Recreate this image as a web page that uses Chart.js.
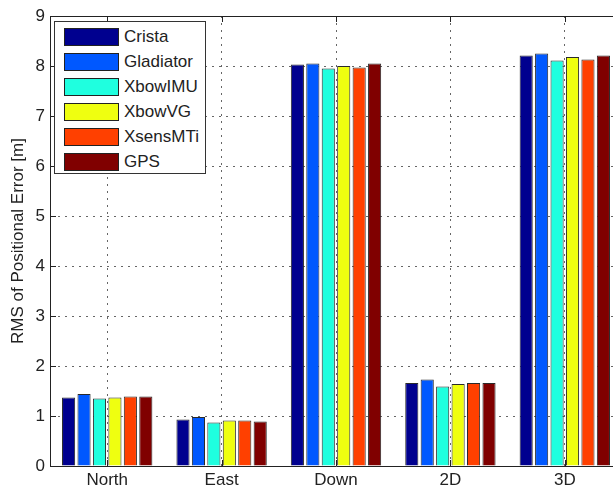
<!DOCTYPE html>
<html>
<head>
<meta charset="utf-8">
<script src="https://cdn.jsdelivr.net/npm/chart.js@4"></script>
<style>
  html, body { margin: 0; padding: 0; background: #fff; overflow: hidden; }
  .wrap { position: relative; width: 613px; height: 489px; overflow: hidden; }
  #chart { position: absolute; left: 0; top: 0; }
  .legend {
    position: absolute; left: 54px; top: 21px; width: 152px; height: 153px;
    box-sizing: border-box; border: 1px solid #333; background: #fff;
    padding: 2px 0 0 9px; font-family: "Liberation Sans", Arial, sans-serif;
    font-size: 17px; color: #222;
  }
  .legend-row { display: flex; align-items: center; height: 25px; white-space: nowrap; }
  .legend-swatch { width: 55px; height: 18px; box-sizing: border-box; border: 1px solid #222; margin-right: 5px; flex: none; }
</style>
</head>
<body>
<div class="wrap">
  <canvas id="chart" width="632" height="489"></canvas>
  <div class="legend" id="legend"></div>
</div>
<script>
// ---------------------- DATA ----------------------
const categories = ["North", "East", "Down", "2D", "3D"];
const seriesNames = ["Crista", "Gladiator", "XbowIMU", "XbowVG", "XsensMTi", "GPS"];
const crista = [1.37, 0.93, 8.03, 1.66, 8.21];
const gladiator = [1.44, 0.98, 8.05, 1.73, 8.25];
const xbowIMU = [1.35, 0.87, 7.95, 1.59, 8.11];
const xbowVG = [1.37, 0.91, 8.0, 1.64, 8.18];
const xsensMTi = [1.39, 0.91, 7.97, 1.66, 8.13];
const gps = [1.39, 0.89, 8.05, 1.66, 8.21];
const seriesColors = ["#00008f", "#0058ff", "#1fffdf", "#efff10", "#ff4000", "#800000"];
const yMin = 0;
const yMax = 9;
const yStep = 1;

const seriesValues = [crista, gladiator, xbowIMU, xbowVG, xsensMTi, gps];
const FONT = "'Liberation Sans', Arial, sans-serif";

// ---------------------- LEGEND (matlab style box) ----------------------
document.getElementById("legend").innerHTML = seriesNames
  .map(
    (name, i) => `
    <div class="legend-row">
      <div class="legend-swatch" style="background:${seriesColors[i]}"></div>
      <span>${name}</span>
    </div>`
  )
  .join("");

// ---------------------- FRAME + INWARD TICKS ----------------------
const framePlugin = {
  id: "frame",
  afterDraw(chart) {
    const { ctx, chartArea: a, scales } = chart;
    const x = scales.x;
    const y = scales.y;
    ctx.save();
    ctx.strokeStyle = "#222";
    ctx.lineWidth = 1;
    ctx.beginPath();
    ctx.moveTo(a.left, Math.round(a.top) + 0.5);
    ctx.lineTo(a.right, Math.round(a.top) + 0.5);
    y.ticks.forEach((t) => {
      const py = Math.round(y.getPixelForValue(t.value)) + 0.5;
      ctx.moveTo(a.left, py);
      ctx.lineTo(a.left + 6, py);
    });
    categories.forEach((c, i) => {
      const px = Math.round(x.getPixelForValue(i)) + 0.5;
      ctx.moveTo(px, a.top);
      ctx.lineTo(px, a.top + 6);
      ctx.moveTo(px, a.bottom);
      ctx.lineTo(px, a.bottom - 6);
    });
    ctx.stroke();
    ctx.restore();
  },
};

// ---------------------- CHART ----------------------
new Chart(document.getElementById("chart"), {
  type: "bar",
  data: {
    labels: categories,
    datasets: seriesNames.map((name, i) => ({
      label: name,
      data: seriesValues[i],
      backgroundColor: seriesColors[i],
      borderColor: "#2a2a2a",
      borderWidth: 1,
      categoryPercentage: 0.81,
      barPercentage: 0.85,
    })),
  },
  options: {
    responsive: false,
    animation: false,
    layout: { padding: { top: 16, right: 10, left: 0, bottom: 0 } },
    plugins: { legend: { display: false }, tooltip: { enabled: false } },
    scales: {
      x: {
        grid: {
          offset: false,
          drawTicks: false,
          color: "#666",
          lineWidth: 1,
        },
        border: { color: "#222", width: 1, dash: [2, 5] },
        ticks: { font: { family: FONT, size: 17 }, color: "#222", padding: 4 },
        afterFit: (s) => { s.height = 23; },
      },
      y: {
        min: yMin,
        max: yMax,
        grid: { drawTicks: false, color: "#666", lineWidth: 1 },
        border: { color: "#222", width: 1, dash: [2, 5] },
        ticks: {
          stepSize: yStep,
          font: { family: FONT, size: 17 },
          color: "#222",
          padding: 5,
        },
        title: {
          display: true,
          text: "RMS of Positional Error [m]",
          font: { family: FONT, size: 17 },
          color: "#222",
          padding: { top: 8, bottom: 0 },
        },
        afterFit: (s) => { s.width = 50; },
      },
    },
  },
  plugins: [framePlugin],
});
</script>
</body>
</html>
